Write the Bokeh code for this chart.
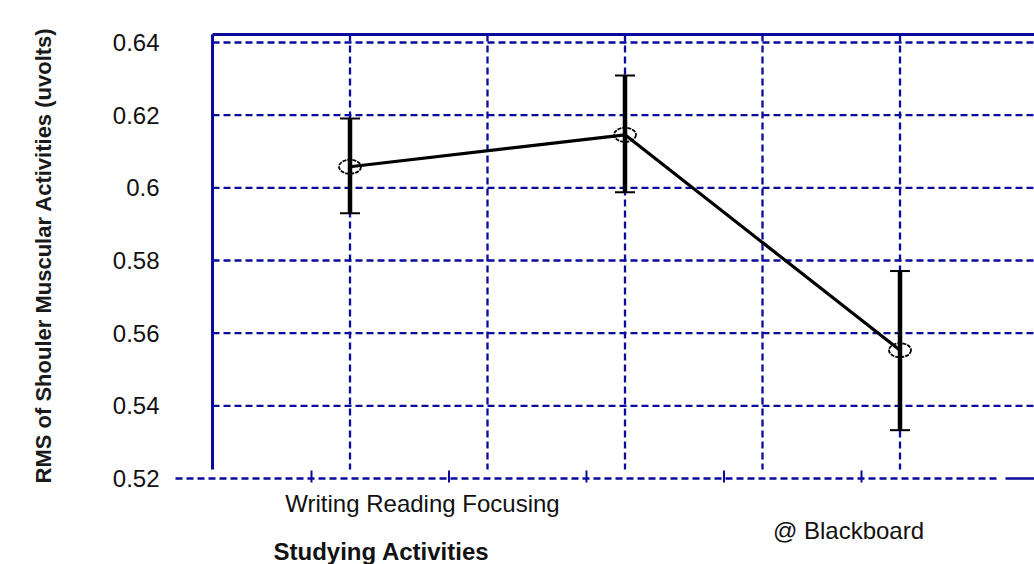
import numpy as np
from bokeh.plotting import figure
from bokeh.models import ColumnDataSource, Range1d
from bokeh.core.properties import value
from bokeh.embed import file_html
from bokeh.resources import INLINE

# ---------------- data ----------------
cat_x = [1, 3, 5]
means = [0.6058, 0.6146, 0.5553]
upper = [0.6191, 0.6309, 0.5771]
lower = [0.5930, 0.5988, 0.5333]

y_ticks = [0.52, 0.54, 0.56, 0.58, 0.60, 0.62, 0.64]
y_tick_labels = ["0.52", "0.54", "0.56", "0.58", "0.6", "0.62", "0.64"]
v_grid_x = [1, 2, 3, 4, 5]
bottom_ticks = [0.72, 1.72, 2.72, 3.72, 4.72]
x_labels = ["Writing Reading Focusing", "@ Blackboard"]
x_title = "Studying Activities"
y_title = "RMS of Shouler Muscular Activities (uvolts)"

# ---------------- layout (page pixels -> data) ----------------
W, H = 1034, 564
OFF = 0
PX0, PXU = 212.0, 137.5        # page x of data x=0, px per unit
PY0, PYU = 42.0, 436.0 / 0.12  # page y of 0.64, px per unit


def dx(px):
    return (px - PX0) / PXU


def dy(py):
    return 0.64 - (py - PY0) / PYU


BLUE = "#0a0a9e"
FONT = value("Liberation Sans")

p = figure(width=W, height=H, output_backend="svg", toolbar_location=None,
           x_axis_location=None, y_axis_location=None, min_border=0,
           x_range=Range1d(dx(OFF), dx(OFF + W)), y_range=Range1d(dy(OFF + H), dy(OFF)))
p.grid.visible = False
p.outline_line_color = None
p.background_fill_color = "white"
p.border_fill_color = "white"

y_top = dy(34)
y_axis_bottom = dy(469)
x_right = dx(OFF + W + 10)

# horizontal dashed gridlines (0.54 .. 0.64)
hg = [t for t in y_ticks if t > 0.52]
p.segment(x0=[0] * len(hg), y0=hg, x1=[x_right] * len(hg), y1=hg,
          line_color=BLUE, line_width=2.3, line_dash="7 4")
# 0.52 baseline: dashed, then solid end
p.segment(x0=[dx(175)], y0=[0.52], x1=[dx(1000)], y1=[0.52],
          line_color=BLUE, line_width=2.3, line_dash="7 4")
p.segment(x0=[dx(1005)], y0=[0.52], x1=[x_right], y1=[0.52],
          line_color=BLUE, line_width=2.5)
# vertical dashed gridlines
p.segment(x0=v_grid_x, y0=[y_top] * len(v_grid_x), x1=v_grid_x,
          y1=[y_axis_bottom] * len(v_grid_x),
          line_color=BLUE, line_width=2.3, line_dash="7 4")
# solid left axis + top line
p.segment(x0=[0], y0=[y_axis_bottom], x1=[0], y1=[y_top], line_color=BLUE, line_width=3)
p.segment(x0=[0], y0=[y_top], x1=[x_right], y1=[y_top], line_color=BLUE, line_width=3)
# small ticks on bottom line
p.segment(x0=bottom_ticks, y0=[dy(470)] * len(bottom_ticks), x1=bottom_ticks,
          y1=[dy(482)] * len(bottom_ticks), line_color=BLUE, line_width=2)

# y tick labels
ys = ColumnDataSource(dict(x=[dx(159)] * len(y_ticks), y=y_ticks, t=y_tick_labels))
p.text(x="x", y="y", text="t", source=ys, text_font=FONT, text_font_size="24px",
       text_align="right", text_baseline="middle", text_color="#111111")

# y title
p.text(x=[dx(43)], y=[dy(255)], text=[y_title], angle=np.pi / 2,
       text_font=FONT, text_font_size="22px", text_font_style="bold",
       text_align="center", text_baseline="middle", text_color="#1a1a1a")

# category labels
p.text(x=[dx(422), dx(848)], y=[dy(503), dy(530)], text=x_labels, text_font=FONT,
       text_font_size="24px", text_align="center", text_baseline="alphabetic",
       text_color="#111111")
p.text(x=[dx(381)], y=[dy(551)], text=[x_title], text_font=FONT, text_font_size="24px",
       text_font_style="bold", text_align="center", text_baseline="alphabetic",
       text_color="#111111")

# data
src = ColumnDataSource(dict(x=cat_x, m=means, u=upper, l=lower))
p.segment(x0="x", y0="l", x1="x", y1="u", source=src, line_color="black", line_width=4.5)
p.scatter(x="x", y="u", source=src, marker="dash", size=20, line_color="black", line_width=2)
p.scatter(x="x", y="l", source=src, marker="dash", size=20, line_color="black", line_width=2)
p.line(x="x", y="m", source=src, line_color="black", line_width=3.2)
p.ellipse(x="x", y="m", width=22, height=14, width_units="screen", height_units="screen",
          source=src, fill_color=None, line_color="black", line_width=1.8, line_dash="4 1")

open("out.html", "w").write(file_html(p, INLINE))
